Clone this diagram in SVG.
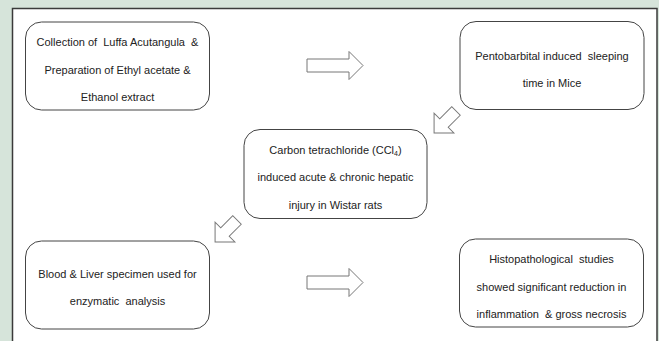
<svg xmlns="http://www.w3.org/2000/svg" width="659" height="341" viewBox="0 0 659 341">
<style>
.node rect{fill:#fff;stroke:#444;stroke-width:1}
.node text{font-family:"Liberation Sans",Arial,sans-serif;font-size:11px;fill:#222;text-anchor:middle}
.arr{fill:#fff;stroke:#777;stroke-width:1}
</style>
<defs>
<path id="harrow" d="M0,-6.5 H42 V-14 L56,0 L42,14 V6.5 H0 Z"/>
<path id="darrow" d="M0,-6 H17 V-14 L31,0 L17,14 V6 H0 Z"/>
</defs>
<rect x="0" y="0" width="659" height="341" fill="#d6e4da"/>
<rect x="12.5" y="8.5" width="644.5" height="340" fill="#fff" stroke="#3a3a3a" stroke-width="1.5"/>
<g id="connectors">
<use href="#harrow" class="arr" transform="translate(307,65.5)"/>
<use href="#harrow" class="arr" transform="translate(307,282.5)"/>
<use href="#darrow" class="arr" transform="translate(456,111) rotate(135)"/>
<use href="#darrow" class="arr" transform="translate(237,220) rotate(135)"/>
</g>
<g id="n1" class="node">
<rect x="25.5" y="22" width="184" height="88" rx="16"/>
<text x="117.5" y="46" xml:space="preserve">Collection of  Luffa Acutangula  &amp;</text>
<text x="117.5" y="74">Preparation of Ethyl acetate &amp;</text>
<text x="117.5" y="101">Ethanol extract</text>
</g>
<g id="n2" class="node">
<rect x="460" y="21.5" width="184" height="88" rx="16"/>
<text x="552" y="60" xml:space="preserve">Pentobarbital induced  sleeping</text>
<text x="552" y="87">time in Mice</text>
</g>
<g id="n3" class="node">
<rect x="244" y="129.5" width="183" height="89" rx="16"/>
<text x="335.5" y="154">Carbon tetrachloride (CCl<tspan font-size="7" dy="2">4</tspan><tspan dy="-2">)</tspan></text>
<text x="335.5" y="181">induced acute &amp; chronic hepatic</text>
<text x="335.5" y="209">injury in Wistar rats</text>
</g>
<g id="n4" class="node">
<rect x="25.5" y="241" width="184" height="88" rx="16"/>
<text x="117.5" y="278">Blood &amp; Liver specimen used for</text>
<text x="117.5" y="305" xml:space="preserve">enzymatic  analysis</text>
</g>
<g id="n5" class="node">
<rect x="459.5" y="239" width="184" height="88" rx="16"/>
<text x="551.5" y="263" xml:space="preserve">Histopathological  studies</text>
<text x="551.5" y="291">showed significant reduction in</text>
<text x="551.5" y="318" xml:space="preserve">inflammation  &amp; gross necrosis</text>
</g>
</svg>
